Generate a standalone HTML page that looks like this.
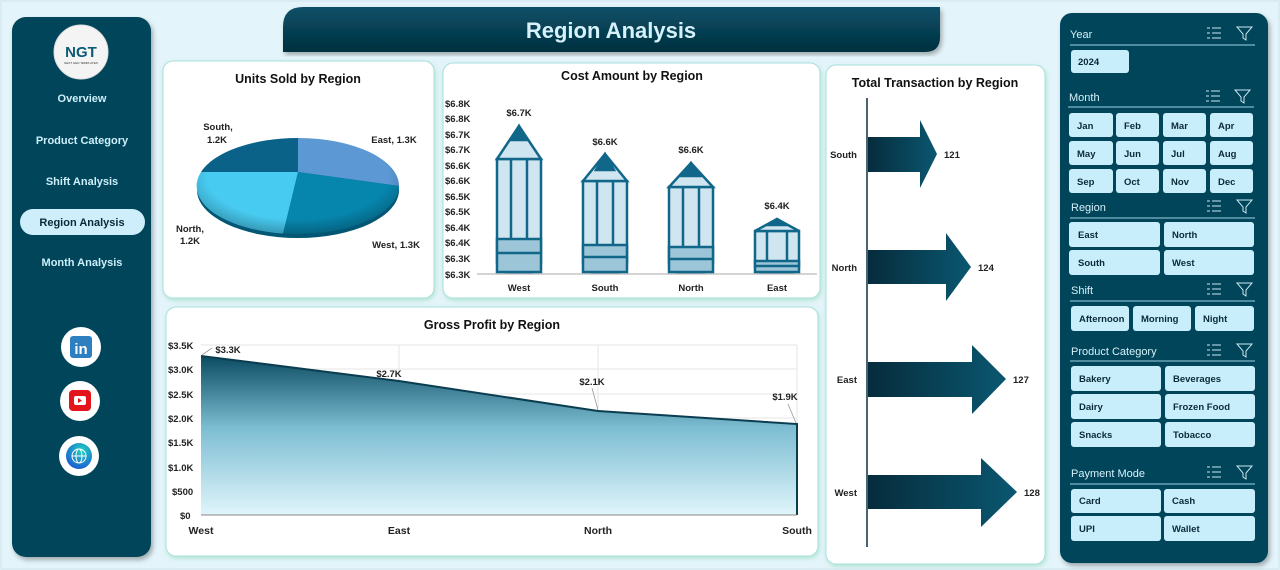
<!DOCTYPE html>
<html><head><meta charset="utf-8"><style>
html,body{margin:0;padding:0;background:#e3f4fa;}
svg{display:block;font-family:"Liberation Sans Narrow","Liberation Sans",sans-serif;}
.b{font-weight:bold}
</style></head><body>
<svg width="1280" height="570" viewBox="0 0 1280 570" xmlns="http://www.w3.org/2000/svg">
<defs>
<linearGradient id="ban" x1="0" y1="0" x2="0" y2="1"><stop offset="0" stop-color="#0a5068"/><stop offset="1" stop-color="#03303f"/></linearGradient>
<linearGradient id="area" x1="0" y1="0" x2="0" y2="1"><stop offset="0" stop-color="#0b4b62"/><stop offset="0.45" stop-color="#7cbdd2"/><stop offset="1" stop-color="#e0f5fb"/></linearGradient>
<linearGradient id="arr" x1="0" y1="0" x2="1" y2="0"><stop offset="0" stop-color="#062c3c"/><stop offset="1" stop-color="#0a5770"/></linearGradient>
<filter id="sh" x="-10%" y="-10%" width="120%" height="120%"><feDropShadow dx="2" dy="3" stdDeviation="2.5" flood-color="#000" flood-opacity="0.3"/></filter>
<filter id="gs" x="-10%" y="-10%" width="120%" height="120%"><feDropShadow dx="1" dy="2" stdDeviation="2" flood-color="#7fd6a8" flood-opacity="0.5"/></filter>
<radialGradient id="globe" cx="0.6" cy="0.3" r="0.8"><stop offset="0" stop-color="#22d3c0"/><stop offset="1" stop-color="#1b4fd6"/></radialGradient>
<radialGradient id="pshade" cx="0.5" cy="0.4" r="0.6"><stop offset="0.75" stop-color="#000" stop-opacity="0"/><stop offset="1" stop-color="#000" stop-opacity="0.25"/></radialGradient>
</defs>
<rect x="0" y="0" width="1280" height="570" fill="#e3f4fa"/>
<rect x="1" y="1" width="1278" height="568" fill="none" stroke="#cfe4ec"/>

<!-- left sidebar -->
<rect x="12" y="17" width="139" height="540" rx="14" fill="#06445a" filter="url(#sh)"/>
<circle cx="81" cy="52" r="27" fill="#f4f4f4" stroke="#ddd"/>
<text x="81" y="57" text-anchor="middle" class="b" font-size="15" fill="#0c5a74">NGT</text>
<text x="81" y="64" text-anchor="middle" font-size="3" fill="#333">NEXT GEN TEMPLATES</text>
<g class="b" font-size="11" fill="#cdeffa" text-anchor="middle">
<text x="82" y="102">Overview</text>
<text x="82" y="144">Product Category</text>
<text x="82" y="185">Shift Analysis</text>
<text x="82" y="266">Month Analysis</text>
</g>
<rect x="20" y="209" width="125" height="26" rx="13" fill="#cdeefa"/>
<text x="82" y="226" text-anchor="middle" class="b" font-size="11" fill="#0a2a36">Region Analysis</text>
<circle cx="81" cy="347" r="20" fill="#fff"/>
<rect x="70" y="336" width="22" height="22" rx="3" fill="#2e7fbf"/>
<text x="81" y="354" text-anchor="middle" class="b" font-size="15" fill="#fff">in</text>
<circle cx="80" cy="401" r="20" fill="#fff"/>
<rect x="69" y="390" width="22" height="21" rx="4" fill="#e3141c"/>
<rect x="74" y="396" width="12" height="9" rx="2" fill="#fff"/>
<polygon points="78,398 78,403 82,400.5" fill="#e3141c"/>
<circle cx="79" cy="456" r="20" fill="#fff"/>
<circle cx="79" cy="456" r="13" fill="url(#globe)"/>
<circle cx="79" cy="456" r="7" fill="none" stroke="#fff" stroke-width="1"/>
<ellipse cx="79" cy="456" rx="3" ry="7" fill="none" stroke="#fff" stroke-width="1"/>
<line x1="72" y1="456" x2="86" y2="456" stroke="#fff"/>

<!-- title banner -->
<path d="M303 7 H940 V37 Q940 52 925 52 H283 V27 Q283 7 303 7 Z" fill="url(#ban)" filter="url(#sh)"/>
<text x="611" y="38" text-anchor="middle" class="b" font-size="22" fill="#d6f1fa" font-family="Liberation Sans">Region Analysis</text>

<!-- Units sold card -->
<rect x="163" y="61" width="271" height="237" rx="10" fill="#fff" stroke="#a9e0dc" filter="url(#gs)"/>
<text x="298" y="83" text-anchor="middle" class="b" font-size="12.5" fill="#111">Units Sold by Region</text>
<ellipse cx="298" cy="190" rx="101" ry="48" fill="#035774"/>
<path d="M298 172 L298 138 A101 48 0 0 1 399 186 Z" fill="#5b98d4"/>
<path d="M298 172 L399 186 A101 48 0 0 1 283 233.5 Z" fill="#0685ad"/>
<path d="M298 172 L283 233.5 A101 48 0 0 1 201 172 Z" fill="#48cbf1"/>
<path d="M298 172 L201 172 A101 48 0 0 1 298 138 Z" fill="#0a6288"/>
<ellipse cx="298" cy="186" rx="101" ry="48" fill="url(#pshade)"/>
<g class="b" font-size="9.5" fill="#222" text-anchor="middle">
<text x="218" y="130">South,</text><text x="217" y="143">1.2K</text>
<text x="394" y="143">East, 1.3K</text>
<text x="190" y="232">North,</text><text x="190" y="244">1.2K</text>
<text x="396" y="248">West, 1.3K</text>
</g>

<!-- Cost card -->
<rect x="443" y="63" width="377" height="235" rx="10" fill="#fff" stroke="#a9e0dc" filter="url(#gs)"/>
<text x="632" y="80" text-anchor="middle" class="b" font-size="12.5" fill="#111">Cost Amount by Region</text>
<g class="b" font-size="9.5" fill="#222">
<text x="445" y="107">$6.8K</text><text x="445" y="122">$6.8K</text><text x="445" y="138">$6.7K</text><text x="445" y="153">$6.7K</text><text x="445" y="169">$6.6K</text><text x="445" y="184">$6.6K</text><text x="445" y="200">$6.5K</text><text x="445" y="215">$6.5K</text><text x="445" y="231">$6.4K</text><text x="445" y="246">$6.4K</text><text x="445" y="262">$6.3K</text><text x="445" y="278">$6.3K</text>
</g>
<line x1="477" y1="274" x2="817" y2="274" stroke="#aaa"/>
<g stroke="#11678a" stroke-width="2.5" fill="#cfe5ef">
<path d="M497 159 H541 V262 Q541 272 531 272 H507 Q497 272 497 262 Z"/>
<polygon points="497,159 519,126 541,159"/>
<polygon points="511,140 519,126 527,140" fill="#11678a"/>
<rect x="497" y="239" width="44" height="33" fill="#9cc5d8"/>
<line x1="497" y1="253" x2="541" y2="253"/><line x1="511" y1="159" x2="511" y2="239"/><line x1="527" y1="159" x2="527" y2="239"/>
<path d="M583 181 H627 V262 Q627 272 617 272 H593 Q583 272 583 262 Z"/>
<polygon points="583,181 605,154 627,181"/>
<polygon points="596,170 605,154 614,170" fill="#11678a"/>
<rect x="583" y="245" width="44" height="27" fill="#9cc5d8"/>
<line x1="583" y1="257" x2="627" y2="257"/><line x1="597" y1="181" x2="597" y2="245"/><line x1="613" y1="181" x2="613" y2="245"/>
<path d="M669 187 H713 V262 Q713 272 703 272 H679 Q669 272 669 262 Z"/>
<polygon points="669,187 691,163 713,187"/>
<polygon points="682,176 691,163 700,176" fill="#11678a"/>
<rect x="669" y="247" width="44" height="25" fill="#9cc5d8"/>
<line x1="669" y1="259" x2="713" y2="259"/><line x1="683" y1="187" x2="683" y2="247"/><line x1="699" y1="187" x2="699" y2="247"/>
<path d="M755 231 H799 V266 Q799 272 793 272 H761 Q755 272 755 266 Z"/>
<polygon points="755,231 777,219 799,231"/>
<polygon points="767,225 777,219 787,225" fill="#11678a"/>
<rect x="755" y="261" width="44" height="11" fill="#9cc5d8"/>
<line x1="755" y1="266" x2="799" y2="266"/><line x1="767" y1="231" x2="767" y2="261"/><line x1="787" y1="231" x2="787" y2="261"/>
</g>
<g class="b" font-size="9.5" fill="#222" text-anchor="middle">
<text x="519" y="116">$6.7K</text><text x="605" y="145">$6.6K</text><text x="691" y="153">$6.6K</text><text x="777" y="209">$6.4K</text>
<text x="519" y="291">West</text><text x="605" y="291">South</text><text x="691" y="291">North</text><text x="777" y="291">East</text>
</g>

<!-- Gross profit card -->
<rect x="166" y="307" width="652" height="249" rx="10" fill="#fff" stroke="#a9e0dc" filter="url(#gs)"/>
<text x="492" y="329" text-anchor="middle" class="b" font-size="12.5" fill="#111">Gross Profit by Region</text>
<g stroke="#e6e6e6" stroke-width="1">
<line x1="201" y1="345" x2="797" y2="345"/><line x1="201" y1="369" x2="797" y2="369"/><line x1="201" y1="394" x2="797" y2="394"/><line x1="201" y1="418" x2="797" y2="418"/><line x1="201" y1="442" x2="797" y2="442"/><line x1="201" y1="467" x2="797" y2="467"/><line x1="201" y1="491" x2="797" y2="491"/>
<line x1="399" y1="345" x2="399" y2="515"/><line x1="598" y1="345" x2="598" y2="515"/><line x1="797" y1="345" x2="797" y2="515"/>
</g>
<path d="M201 515 L201 356 L399 381 L598 411 L797 424 L797 515 Z" fill="url(#area)"/>
<path d="M201 356 L399 381 L598 411 L797 424 L797 515" fill="none" stroke="#0b3d50" stroke-width="2"/>
<line x1="201" y1="515" x2="797" y2="515" stroke="#888"/>
<g font-size="9.5" fill="#222" class="b">
<text x="168" y="349">$3.5K</text><text x="168" y="373">$3.0K</text><text x="168" y="398">$2.5K</text><text x="168" y="422">$2.0K</text><text x="168" y="446">$1.5K</text><text x="168" y="471">$1.0K</text><text x="172" y="495">$500</text><text x="180" y="519">$0</text>
</g>
<g class="b" font-size="9.5" fill="#222" text-anchor="middle">
<text x="228" y="353">$3.3K</text><text x="389" y="377">$2.7K</text><text x="592" y="385">$2.1K</text><text x="785" y="400">$1.9K</text>
<text x="201" y="534" font-size="10.5">West</text><text x="399" y="534" font-size="10.5">East</text><text x="598" y="534" font-size="10.5">North</text><text x="797" y="534" font-size="10.5">South</text>
</g>
<g stroke="#999" stroke-width="0.8"><line x1="202" y1="355" x2="212" y2="348"/><line x1="592" y1="388" x2="598" y2="410"/><line x1="788" y1="404" x2="796" y2="423"/></g>

<!-- Transaction card -->
<rect x="826" y="65" width="219" height="499" rx="10" fill="#fff" stroke="#a9e0dc" filter="url(#gs)"/>
<text x="935" y="87" text-anchor="middle" class="b" font-size="12.5" fill="#111">Total Transaction by Region</text>
<line x1="867" y1="98" x2="867" y2="547" stroke="#0b3040" stroke-width="1.5"/>
<polygon points="868,137 920,137 920,120 937,154 920,188 920,172 868,172" fill="url(#arr)"/>
<polygon points="868,250 946,250 946,233 971,267 946,301 946,284 868,284" fill="url(#arr)"/>
<polygon points="868,362 972,362 972,345 1006,379 972,414 972,397 868,397" fill="url(#arr)"/>
<polygon points="868,475 981,475 981,458 1017,492 981,527 981,509 868,509" fill="url(#arr)"/>
<g class="b" font-size="9.5" fill="#222">
<text x="857" y="158" text-anchor="end">South</text><text x="857" y="271" text-anchor="end">North</text><text x="857" y="383" text-anchor="end">East</text><text x="857" y="496" text-anchor="end">West</text>
<text x="944" y="158">121</text><text x="978" y="271">124</text><text x="1013" y="383">127</text><text x="1024" y="496">128</text>
</g>

<!-- right slicer panel -->
<rect x="1060" y="13" width="208" height="550" rx="12" fill="#06445a" filter="url(#sh)"/>
<g font-size="11" fill="#d6f1fa">
<text x="1070" y="38">Year</text><text x="1069" y="101">Month</text><text x="1071" y="211">Region</text><text x="1071" y="294">Shift</text><text x="1071" y="355">Product Category</text><text x="1071" y="477">Payment Mode</text>
</g>
<g stroke="#9fd4e4" stroke-width="1">
<line x1="1070" y1="45" x2="1255" y2="45"/><line x1="1068" y1="107" x2="1254" y2="107"/><line x1="1070" y1="218" x2="1255" y2="218"/><line x1="1070" y1="301" x2="1255" y2="301"/><line x1="1070" y1="361" x2="1255" y2="361"/><line x1="1070" y1="484" x2="1255" y2="484"/>
</g>
<g fill="none" stroke="#c8e8f2" stroke-width="1">
<path d="M1207 28h3M1207 33h3M1207 38h3M1212 28h9M1212 33h9M1212 38h9"/><path d="M1237 27h15l-6 7v6l-3 -2v-4z"/>
<path d="M1206 91h3M1206 96h3M1206 101h3M1211 91h9M1211 96h9M1211 101h9"/><path d="M1235 90h15l-6 7v6l-3 -2v-4z"/>
<path d="M1207 201h3M1207 206h3M1207 211h3M1212 201h9M1212 206h9M1212 211h9"/><path d="M1237 200h15l-6 7v6l-3 -2v-4z"/>
<path d="M1207 284h3M1207 289h3M1207 294h3M1212 284h9M1212 289h9M1212 294h9"/><path d="M1237 283h15l-6 7v6l-3 -2v-4z"/>
<path d="M1207 345h3M1207 350h3M1207 355h3M1212 345h9M1212 350h9M1212 355h9"/><path d="M1237 344h15l-6 7v6l-3 -2v-4z"/>
<path d="M1207 467h3M1207 472h3M1207 477h3M1212 467h9M1212 472h9M1212 477h9"/><path d="M1237 466h15l-6 7v6l-3 -2v-4z"/>
</g>
<g fill="#c9eefb">
<rect x="1071" y="50" width="58" height="23" rx="3"/>
<rect x="1069" y="113" width="44" height="24" rx="3"/><rect x="1116" y="113" width="43" height="24" rx="3"/><rect x="1163" y="113" width="43" height="24" rx="3"/><rect x="1210" y="113" width="43" height="24" rx="3"/>
<rect x="1069" y="141" width="44" height="24" rx="3"/><rect x="1116" y="141" width="43" height="24" rx="3"/><rect x="1163" y="141" width="43" height="24" rx="3"/><rect x="1210" y="141" width="43" height="24" rx="3"/>
<rect x="1069" y="169" width="44" height="24" rx="3"/><rect x="1116" y="169" width="43" height="24" rx="3"/><rect x="1163" y="169" width="43" height="24" rx="3"/><rect x="1210" y="169" width="43" height="24" rx="3"/>
<rect x="1069" y="222" width="91" height="25" rx="3"/><rect x="1164" y="222" width="90" height="25" rx="3"/>
<rect x="1069" y="250" width="91" height="25" rx="3"/><rect x="1164" y="250" width="90" height="25" rx="3"/>
<rect x="1071" y="306" width="58" height="25" rx="3"/><rect x="1133" y="306" width="58" height="25" rx="3"/><rect x="1195" y="306" width="59" height="25" rx="3"/>
<rect x="1071" y="366" width="90" height="25" rx="3"/><rect x="1165" y="366" width="90" height="25" rx="3"/>
<rect x="1071" y="394" width="90" height="25" rx="3"/><rect x="1165" y="394" width="90" height="25" rx="3"/>
<rect x="1071" y="422" width="90" height="25" rx="3"/><rect x="1165" y="422" width="90" height="25" rx="3"/>
<rect x="1071" y="489" width="90" height="24" rx="3"/><rect x="1164" y="489" width="91" height="24" rx="3"/>
<rect x="1071" y="516" width="90" height="25" rx="3"/><rect x="1164" y="516" width="91" height="25" rx="3"/>
</g>
<g class="b" font-size="9.5" fill="#0a2a36">
<text x="1078" y="65">2024</text>
<text x="1077" y="129">Jan</text><text x="1124" y="129">Feb</text><text x="1171" y="129">Mar</text><text x="1218" y="129">Apr</text>
<text x="1077" y="157">May</text><text x="1124" y="157">Jun</text><text x="1171" y="157">Jul</text><text x="1218" y="157">Aug</text>
<text x="1077" y="185">Sep</text><text x="1124" y="185">Oct</text><text x="1171" y="185">Nov</text><text x="1218" y="185">Dec</text>
<text x="1078" y="238">East</text><text x="1172" y="238">North</text>
<text x="1078" y="266">South</text><text x="1172" y="266">West</text>
<text x="1079" y="322">Afternoon</text><text x="1141" y="322">Morning</text><text x="1203" y="322">Night</text>
<text x="1079" y="382">Bakery</text><text x="1173" y="382">Beverages</text>
<text x="1079" y="410">Dairy</text><text x="1173" y="410">Frozen Food</text>
<text x="1079" y="438">Snacks</text><text x="1173" y="438">Tobacco</text>
<text x="1079" y="504">Card</text><text x="1172" y="504">Cash</text>
<text x="1079" y="532">UPI</text><text x="1172" y="532">Wallet</text>
</g>
</svg>
</body></html>
